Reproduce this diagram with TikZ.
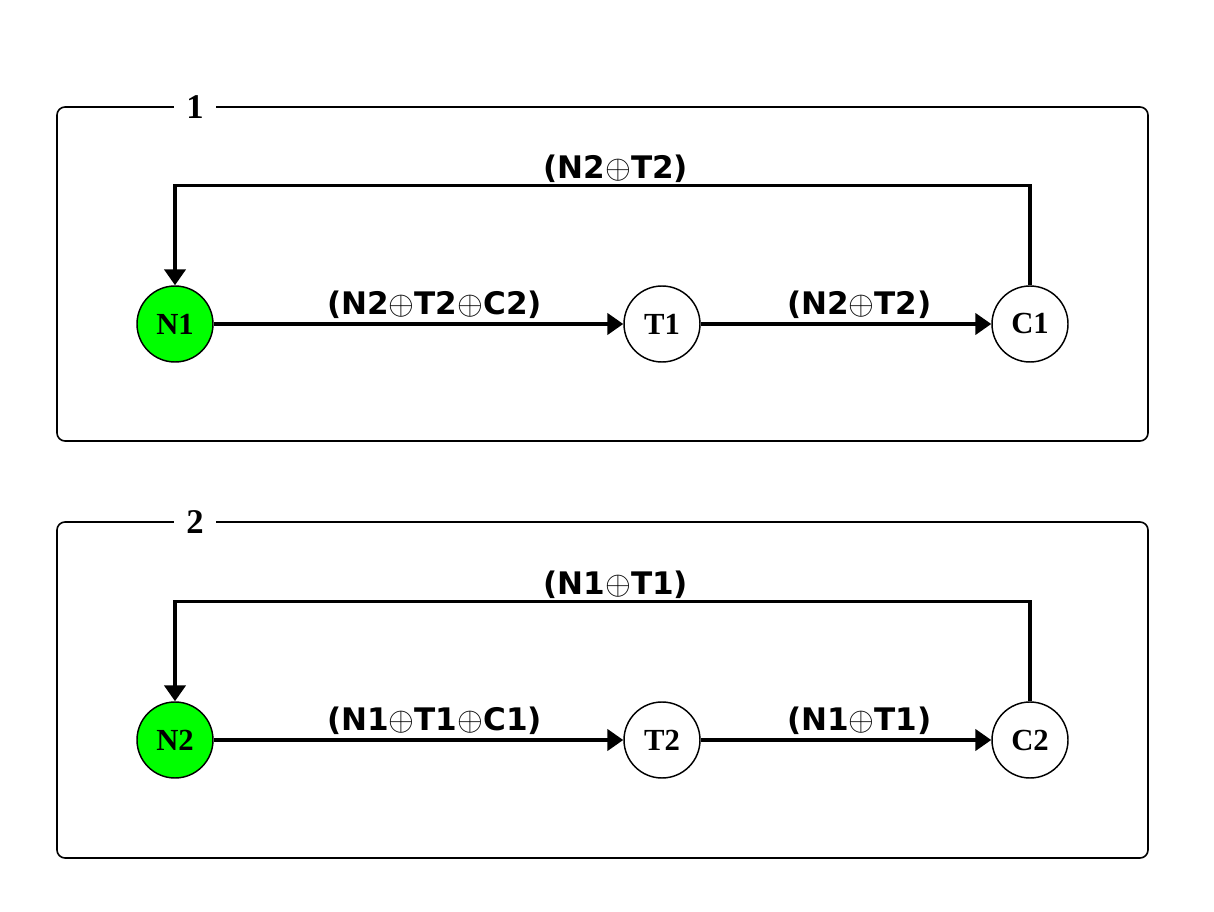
\documentclass[tikz,border=0pt]{standalone}
\usepackage{fontspec}
\setmainfont{Liberation Serif}
\newfontfamily\edgefont{DejaVu Sans}
\usetikzlibrary{arrows.meta}
\begin{document}
\begin{tikzpicture}[x=0.75pt,y=-0.75pt,
  frame/.style={draw, line width=1.2pt, rounded corners=6pt},
  framelabel/.style={fill=white, inner xsep=9pt, inner ysep=0pt, font=\fontsize{26}{26}\selectfont\bfseries},
  state/.style={circle, draw, line width=1.1pt, minimum size=57pt, inner sep=0pt, font=\fontsize{23}{23}\selectfont\bfseries},
  start/.style={state, fill=green},
  flow/.style={line width=2.6pt, -{Triangle[length=12pt,width=16pt]}},
  lbl/.style={font=\edgefont\fontsize{23.3}{23.3}\selectfont\bfseries, inner sep=2pt}
]
\useasboundingbox (0,0) rectangle (1214,912);

% panel 1
\draw[frame] (57,107) rectangle (1148,441);
\node[framelabel] (p1) at (195,107) {1};
\node[start] (N1) at (175,324) {N1};
\node[state] (T1) at (662,324) {T1};
\node[state] (C1) at (1030,324) {C1};
\draw[flow] (N1) -- node[lbl, above, xshift=12pt, yshift=1pt] {(N2$\oplus$T2$\oplus$C2)} (T1);
\draw[flow] (T1) -- node[lbl, above, xshift=10pt, yshift=1pt] {(N2$\oplus$T2)} (C1);
\draw[flow] (C1.north) -- ++(0,-100) coordinate (c1top)
  -- node[lbl, above, xshift=10pt, yshift=-1pt] {(N2$\oplus$T2)} (c1top -| N1.north) -- (N1.north);

% panel 2
\draw[frame] (57,522) rectangle (1148,858);
\node[framelabel] (p2) at (195,522) {2};
\node[start] (N2) at (175,740) {N2};
\node[state] (T2) at (662,740) {T2};
\node[state] (C2) at (1030,740) {C2};
\draw[flow] (N2) -- node[lbl, above, xshift=12pt, yshift=1pt] {(N1$\oplus$T1$\oplus$C1)} (T2);
\draw[flow] (T2) -- node[lbl, above, xshift=10pt, yshift=1pt] {(N1$\oplus$T1)} (C2);
\draw[flow] (C2.north) -- ++(0,-100) coordinate (c2top)
  -- node[lbl, above, xshift=10pt, yshift=-1pt] {(N1$\oplus$T1)} (c2top -| N2.north) -- (N2.north);
\end{tikzpicture}
\end{document}
